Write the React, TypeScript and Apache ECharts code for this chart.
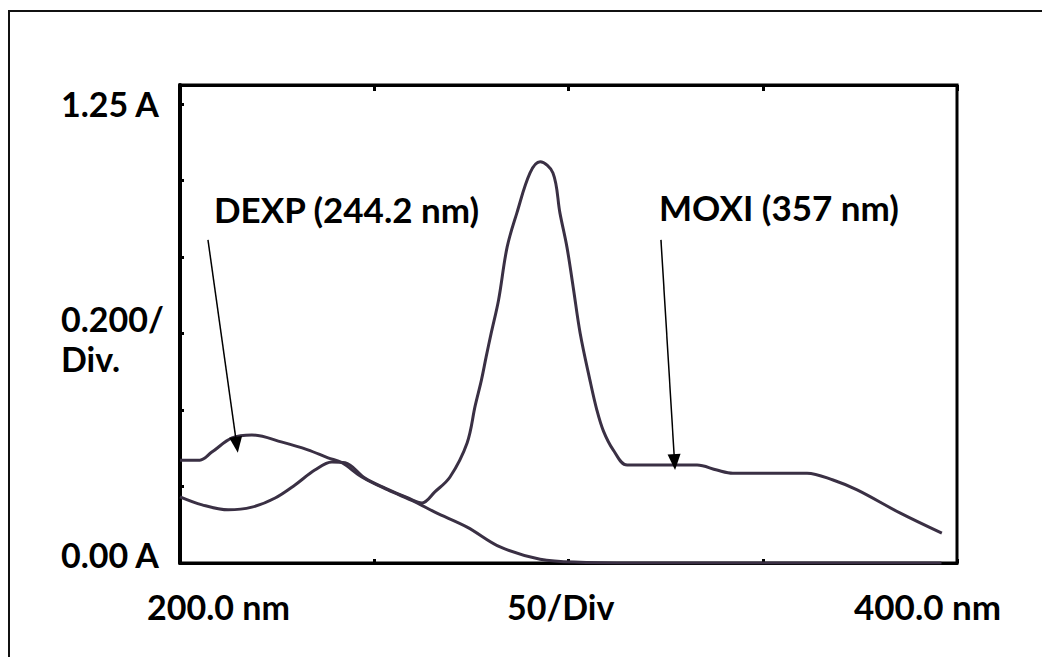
import React, { useEffect, useRef } from 'react';
import * as echarts from 'echarts';

// Wavelength (nm) and absorbance (A)
const moxiNm = [200.0, 205.7, 212.4, 218.5, 224.5, 229.6, 234.7, 239.1, 242.5, 247.6, 252.8, 258.7, 262.3, 265.6, 269.5, 273.9, 276.0, 277.6, 278.8, 280.1, 282.0, 284.2, 286.7, 290.1, 292.7, 296.0, 297.8, 299.6, 301.2, 303.0, 305.5, 307.3, 309.0, 311.5, 315.1, 325.4, 333.1, 338.2, 342.3, 351.1, 361.4, 368.1, 374.3, 385.3, 396.1];
const moxiAbs = [0.173, 0.152, 0.139, 0.146, 0.170, 0.204, 0.243, 0.264, 0.262, 0.222, 0.196, 0.170, 0.157, 0.186, 0.225, 0.314, 0.412, 0.479, 0.539, 0.601, 0.688, 0.826, 0.915, 1.020, 1.049, 1.020, 0.915, 0.826, 0.722, 0.601, 0.479, 0.400, 0.345, 0.296, 0.256, 0.256, 0.256, 0.243, 0.235, 0.235, 0.235, 0.217, 0.191, 0.131, 0.078];

const dexpNm = [200.0, 205.1, 208.2, 213.4, 218.5, 226.3, 232.9, 238.1, 241.7, 246.8, 253.5, 260.5, 265.6, 273.9, 282.4, 292.7, 303.0, 320.0, 360.0, 396.0];
const dexpAbs = [0.269, 0.269, 0.290, 0.327, 0.335, 0.316, 0.296, 0.275, 0.262, 0.225, 0.191, 0.160, 0.133, 0.094, 0.042, 0.010, 0.002, 0.0, 0.0, 0.0];

// Axis extents
const xRange = [200, 400];
const xStep = 50;
const yRange = [0, 1.25];
const yStep = 0.2;

// Tick labels
const yTickLabels = ['1.25 A', '0.200/', 'Div.', '0.00 A'];
const xTickLabels = ['200.0 nm', '50/Div', '400.0 nm'];

// Annotations: label and arrow (start, end) in data units
const annotationLabels = ['DEXP (244.2 nm)', 'MOXI (357 nm)'];
const dexpArrow = [[207.2, 0.845], [214.6, 0.309]];
const moxiArrow = [[323.8, 0.845], [327.3, 0.264]];

const zip = (xs: number[], ys: number[]) => xs.map((x, i) => [x, ys[i]]);

export default function App() {
  const ref = useRef<HTMLDivElement>(null);
  useEffect(() => {
    document.body.style.margin = '0';
    const chart = echarts.init(ref.current!, null, { renderer: 'svg' });
    const font = 'Lato, "Open Sans", sans-serif';
    const txt = (text: string, x: number, y: number, size: number) => ({
      type: 'text',
      x,
      y,
      style: {
        text,
        fill: '#000',
        font: `bold ${size}px ${font}`,
        textAlign: 'left',
        textVerticalAlign: 'middle',
      },
      silent: true,
    });
    const lineColor = '#3a3044';
    chart.setOption({
      animation: false,
      backgroundColor: '#fff',
      grid: {
        left: 180,
        top: 85,
        width: 777,
        height: 478,
        show: true,
        borderColor: '#000',
        borderWidth: 3,
        containLabel: false,
      },
      xAxis: [
        {
          type: 'value',
          min: xRange[0],
          max: xRange[1],
          interval: xStep,
          position: 'bottom',
          axisLine: { show: true, lineStyle: { color: '#000', width: 3 } },
          axisTick: { show: true, inside: true, length: 4, lineStyle: { color: '#000', width: 3 } },
          axisLabel: { show: false },
          splitLine: { show: false },
        },
        {
          type: 'value',
          min: xRange[0],
          max: xRange[1],
          interval: xStep,
          position: 'top',
          axisLine: { show: true, lineStyle: { color: '#000', width: 3 } },
          axisTick: { show: true, inside: true, length: 6, lineStyle: { color: '#000', width: 3 } },
          axisLabel: { show: false },
          splitLine: { show: false },
        },
      ],
      yAxis: {
        type: 'value',
        min: yRange[0],
        max: yRange[1],
        interval: yStep,
        axisLine: { show: true, lineStyle: { color: '#000', width: 4 } },
        axisTick: { show: true, inside: true, length: 4, lineStyle: { color: '#000', width: 3 } },
        axisLabel: { show: false },
        splitLine: { show: false },
      },
      series: [
        {
          name: 'MOXI',
          type: 'line',
          data: zip(moxiNm, moxiAbs),
          showSymbol: false,
          smooth: 0.35,
          lineStyle: { color: lineColor, width: 3 },
          markLine: {
            silent: true,
            symbol: ['none', 'triangle'],
            symbolSize: [13, 16],
            label: { show: false },
            lineStyle: { color: '#000', width: 1.5, type: 'solid' },
            data: [
              [{ coord: moxiArrow[0] }, { coord: moxiArrow[1] }],
              [{ coord: dexpArrow[0] }, { coord: dexpArrow[1] }],
            ],
          },
        },
        {
          name: 'DEXP',
          type: 'line',
          data: zip(dexpNm, dexpAbs),
          showSymbol: false,
          smooth: 0.35,
          lineStyle: { color: lineColor, width: 3 },
        },
      ],
      graphic: [
        {
          type: 'rect',
          shape: { x: 9, y: 11, width: 1100, height: 700 },
          style: { fill: 'none', stroke: '#111', lineWidth: 2 },
          silent: true,
          z: -1,
        },
        txt(yTickLabels[0], 61, 103, 34),
        txt(yTickLabels[1], 61, 318, 34),
        txt(yTickLabels[2], 61, 358, 34),
        txt(yTickLabels[3], 61, 554, 34),
        txt(xTickLabels[0], 147, 606, 34),
        txt(xTickLabels[1], 507, 606, 34),
        txt(xTickLabels[2], 854, 606, 35),
        txt(annotationLabels[0], 214, 209, 35),
        txt(annotationLabels[1], 659, 207, 35),
      ],
    });
    return () => chart.dispose();
  }, []);
  return <div ref={ref} style={{ width: 1042, height: 657 }} />;
}
